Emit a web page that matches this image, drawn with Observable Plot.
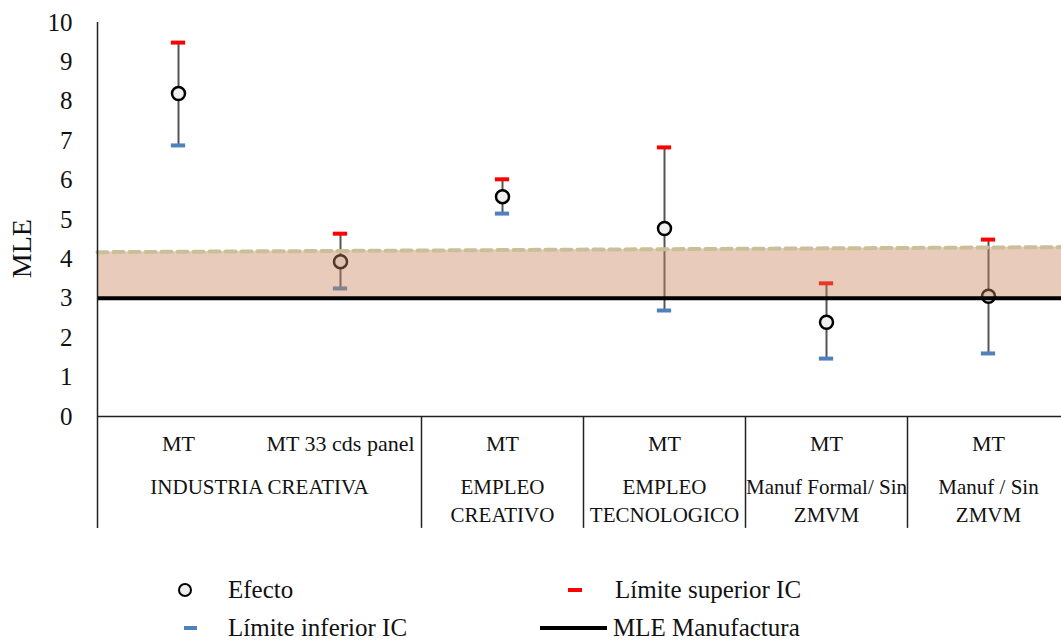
<!DOCTYPE html>
<html><head><meta charset="utf-8">
<script src="https://cdn.jsdelivr.net/npm/d3@7"></script>
<script src="https://cdn.jsdelivr.net/npm/@observablehq/plot@0.6"></script>
<style>
html,body{margin:0;padding:0;background:#fff;overflow:hidden;}
#wrap{position:relative;width:1061px;height:641px;font-family:"Liberation Serif","Times New Roman",serif;}
#chart svg{overflow:hidden;}
.leg{position:absolute;font-family:"Liberation Serif","Times New Roman",serif;font-size:25px;color:#111;height:24px;line-height:24px;white-space:nowrap;}
.sw{position:absolute;}
</style></head><body>
<div id="wrap"><div id="chart"></div>
<div class="sw" style="left:178px;top:583px;width:10px;height:10px;border:2px solid #000;border-radius:50%;background:#eee;"></div>
<div class="leg" style="left:228px;top:578px;">Efecto</div>
<div class="sw" style="left:568px;top:588px;width:14px;height:4px;background:#ff0000;"></div>
<div class="leg" style="left:615px;top:578px;">Límite superior IC</div>
<div class="sw" style="left:184px;top:626px;width:13px;height:4px;background:#4f81bd;"></div>
<div class="leg" style="left:228px;top:616px;">Límite inferior IC</div>
<div class="sw" style="left:540px;top:626px;width:67px;height:4px;background:#000;"></div>
<div class="leg" style="left:613px;top:616px;">MLE Manufactura</div>
</div>
<script>
// ---- data ----
const categories = ["MT", "MT 33 cds panel", "MT", "MT", "MT", "MT"];
const efecto = [8.2, 3.93, 5.58, 4.77, 2.39, 3.05];
const limiteSuperior = [9.49, 4.64, 6.02, 6.83, 3.38, 4.49];
const limiteInferior = [6.88, 3.25, 5.15, 2.69, 1.47, 1.60];
const groups = ["INDUSTRIA CREATIVA", "EMPLEO\nCREATIVO", "EMPLEO\nTECNOLOGICO", "Manuf Formal/ Sin\nZMVM", "Manuf / Sin\nZMVM"];
const groupSpan = [2, 1, 1, 1, 1];
const mleManufactura = 3;
const bandTopX = [0, 6];
const bandTop = [4.17, 4.30];
const yTicks = [0, 1, 2, 3, 4, 5, 6, 7, 8, 9, 10];

// ---- layout helpers ----
const FONT = "Liberation Serif";
const tableBottom = -2.84;
const catLabelY = -0.69;
const groupLabelY = -1.47;
const capHalf = 0.044;

const rows = categories.map((c, i) => ({pos: i + 0.5, cat: c, e: efecto[i], up: limiteSuperior[i], lo: limiteInferior[i]}));
const bounds = [0];
groupSpan.forEach(s => bounds.push(bounds[bounds.length - 1] + s));
const groupRows = groups.map((g, i) => ({label: g, pos: (bounds[i] + bounds[i + 1]) / 2}));
const dividers = bounds.slice(0, -1);
const band = bandTopX.map((x, i) => ({x, top: bandTop[i]}));

const chart = Plot.plot({
  width: 1061,
  height: 545,
  marginLeft: 97,
  marginTop: 22,
  marginBottom: 129,
  marginRight: 0,
  style: {fontFamily: "'Liberation Serif', serif", fontSize: "24px", color: "#111", background: "#fff"},
  x: {domain: [0, 6], range: [97, 1069], axis: null},
  y: {domain: [0, 10], axis: null},
  marks: [
    Plot.axisY({ticks: yTicks, tickSize: 0, tickPadding: 25, label: null, fontSize: 25, fontFamily: FONT, fill: "#111"}),
    // error stems
    Plot.ruleX(rows, {x: "pos", y1: "lo", y2: "up", stroke: "#555", strokeWidth: 2}),
    Plot.ruleY(rows, {y: "up", x1: d => d.pos - capHalf, x2: d => d.pos + capHalf, stroke: "#ff0000", strokeWidth: 4}),
    Plot.ruleY(rows, {y: "lo", x1: d => d.pos - capHalf, x2: d => d.pos + capHalf, stroke: "#4f81bd", strokeWidth: 4}),
    Plot.dot(rows, {x: "pos", y: "e", r: 6.5, fill: "#f0f0f0", stroke: "#000", strokeWidth: 2.5}),
    // band
    Plot.areaY(band, {x: "x", y1: mleManufactura, y2: "top", fill: "#c8845a", fillOpacity: 0.42}),
    Plot.line(band, {x: "x", y: "top", stroke: "#c9c09a", strokeWidth: 4, strokeDasharray: "10,6"}),
    Plot.ruleY([mleManufactura], {x1: 0, x2: 6, stroke: "#000", strokeWidth: 4}),
    // axes frame & table
    Plot.ruleY([0], {x1: 0, x2: 6, stroke: "#222", strokeWidth: 1.5}),
    Plot.ruleX([0], {y1: tableBottom, y2: 10, stroke: "#222", strokeWidth: 1.5}),
    Plot.ruleX(dividers.slice(1), {y1: 0, y2: tableBottom, stroke: "#222", strokeWidth: 1.5}),
    Plot.text(rows, {x: "pos", y: catLabelY, text: "cat", fontSize: 22, fontFamily: FONT, fill: "#111"}),
    Plot.text(groupRows, {x: "pos", y: groupLabelY, text: "label", fontSize: 21, fontFamily: FONT, lineAnchor: "top", lineHeight: 1.33, fill: "#111"}),
    Plot.text(["MLE"], {x: 0, y: 4.26, text: d => d, dx: -75, rotate: -90, fontSize: 28, fontFamily: FONT, fill: "#111"})
  ]
});
document.getElementById("chart").appendChild(chart);
</script>
</body></html>
